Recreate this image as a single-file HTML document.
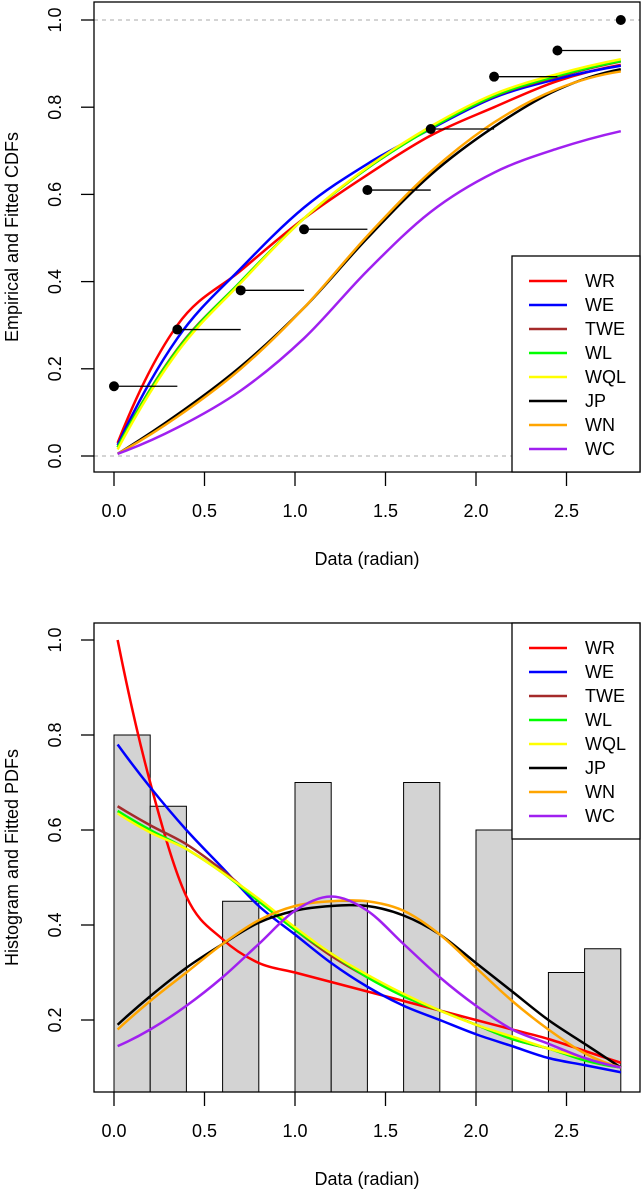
<!DOCTYPE html>
<html><head><meta charset="utf-8"><style>
body{margin:0;background:#fff;}
svg{display:block;font-family:"Liberation Sans",Arial,sans-serif;}
</style></head><body>
<svg id="chart" width="641" height="1191" viewBox="0 0 641 1191" xmlns="http://www.w3.org/2000/svg"></svg>
<script>
// ---- data ----
const xTicks = [0, 0.5, 1.0, 1.5, 2.0, 2.5];
const xTickLabels = ["0.0","0.5","1.0","1.5","2.0","2.5"];
const cdfYTicks = [0, 0.2, 0.4, 0.6, 0.8, 1.0];
const cdfYTickLabels = ["0.0","0.2","0.4","0.6","0.8","1.0"];
const pdfYTicks = [0.2, 0.4, 0.6, 0.8, 1.0];
const pdfYTickLabels = ["0.2","0.4","0.6","0.8","1.0"];
const modelNames = ["WR","WE","TWE","WL","WQL","JP","WN","WC"];
const modelColors = ["#ff0000","#0000ff","#a52a2a","#00ff00","#ffff00","#000000","#ffa500","#a020f0"];

const empX = [0, 0.35, 0.7, 1.05, 1.4, 1.75, 2.1, 2.45, 2.8];
const empY = [0.16, 0.29, 0.38, 0.52, 0.61, 0.75, 0.87, 0.93, 1.0];

const cdfX = [0.02, 0.35, 0.7, 1.05, 1.4, 1.75, 2.1, 2.45, 2.8];
const cdfWR  = [0.03, 0.30, 0.425, 0.545, 0.645, 0.735, 0.80, 0.86, 0.897];
const cdfWE  = [0.025, 0.27, 0.43, 0.57, 0.67, 0.75, 0.822, 0.865, 0.895];
const cdfTWE = [0.02, 0.245, 0.40, 0.545, 0.66, 0.752, 0.825, 0.87, 0.905];
const cdfWL  = [0.02, 0.243, 0.40, 0.545, 0.66, 0.752, 0.826, 0.872, 0.906];
const cdfWQL = [0.015, 0.238, 0.397, 0.545, 0.662, 0.756, 0.83, 0.876, 0.91];
const cdfJP  = [0.005, 0.095, 0.205, 0.34, 0.50, 0.645, 0.755, 0.84, 0.887];
const cdfWN  = [0.005, 0.09, 0.20, 0.34, 0.505, 0.652, 0.765, 0.842, 0.882];
const cdfWC  = [0.005, 0.065, 0.15, 0.27, 0.425, 0.56, 0.65, 0.705, 0.745];

const binStart = [0, 0.2, 0.4, 0.6, 0.8, 1.0, 1.2, 1.4, 1.6, 1.8, 2.0, 2.2, 2.4, 2.6];
const binHeight = [0.8, 0.65, 0, 0.45, 0, 0.7, 0.45, 0, 0.7, 0, 0.6, 0, 0.3, 0.35];

const pdfX = [0.02, 0.2, 0.4, 0.6, 0.8, 1.0, 1.2, 1.4, 1.6, 1.8, 2.0, 2.2, 2.4, 2.6, 2.8];
const pdfWR  = [1.0, 0.70, 0.46, 0.37, 0.32, 0.30, 0.28, 0.26, 0.24, 0.22, 0.20, 0.18, 0.16, 0.135, 0.11];
const pdfWE  = [0.78, 0.69, 0.60, 0.52, 0.44, 0.38, 0.32, 0.27, 0.23, 0.20, 0.17, 0.145, 0.12, 0.105, 0.09];
const pdfTWE = [0.65, 0.61, 0.57, 0.515, 0.45, 0.39, 0.335, 0.29, 0.25, 0.22, 0.19, 0.16, 0.14, 0.12, 0.10];
const pdfWL  = [0.64, 0.60, 0.56, 0.51, 0.45, 0.39, 0.34, 0.29, 0.25, 0.22, 0.19, 0.16, 0.14, 0.115, 0.10];
const pdfWQL = [0.635, 0.595, 0.56, 0.51, 0.455, 0.395, 0.34, 0.295, 0.255, 0.22, 0.19, 0.165, 0.14, 0.12, 0.10];
const pdfJP  = [0.19, 0.25, 0.31, 0.36, 0.405, 0.43, 0.44, 0.44, 0.42, 0.38, 0.32, 0.26, 0.20, 0.15, 0.10];
const pdfWN  = [0.18, 0.24, 0.30, 0.36, 0.41, 0.44, 0.45, 0.45, 0.43, 0.38, 0.31, 0.24, 0.18, 0.13, 0.10];
const pdfWC  = [0.145, 0.18, 0.23, 0.29, 0.36, 0.43, 0.46, 0.43, 0.36, 0.29, 0.23, 0.18, 0.15, 0.12, 0.10];

const cdfSeries = [cdfWR, cdfWE, cdfTWE, cdfWL, cdfWQL, cdfJP, cdfWN, cdfWC];
const pdfSeries = [pdfWR, pdfWE, pdfTWE, pdfWL, pdfWQL, pdfJP, pdfWN, pdfWC];

// ---- layout ----
const NS = "http://www.w3.org/2000/svg";
const svg = document.getElementById("chart");
const sx = v => 114 + v * 181;
const syTop = v => 456 - v * 436;
const syBot = v => 640 + (1 - v) * 475;

function mk(tag, attrs, parent) {
  const e = document.createElementNS(NS, tag);
  for (const k in attrs) e.setAttribute(k, attrs[k]);
  (parent || svg).appendChild(e);
  return e;
}
function smoothPath(xs, ys, fx, fy) {
  const p = xs.map((x, i) => [fx(x), fy(ys[i])]);
  const n = p.length;
  const sl = [];
  for (let i = 0; i < n; i++) {
    if (i > 0 && i < n - 1) sl.push((p[i + 1][1] - p[i - 1][1]) / (p[i + 1][0] - p[i - 1][0]));
    else sl.push(null);
  }
  const ch0 = (p[1][1] - p[0][1]) / (p[1][0] - p[0][0]);
  const chN = (p[n - 1][1] - p[n - 2][1]) / (p[n - 1][0] - p[n - 2][0]);
  sl[0] = n > 2 ? 2 * ch0 - sl[1] : ch0;
  sl[n - 1] = n > 2 ? 2 * chN - sl[n - 2] : chN;
  let d = "M" + p[0][0] + "," + p[0][1];
  for (let i = 0; i < n - 1; i++) {
    const p1 = p[i], p2 = p[i + 1];
    const h = p2[0] - p1[0];
    const c1 = [p1[0] + h / 3, p1[1] + sl[i] * h / 3];
    const c2 = [p2[0] - h / 3, p2[1] - sl[i + 1] * h / 3];
    d += " C" + c1 + " " + c2 + " " + p2;
  }
  return d;
}

function drawPanel(opt) {
  const g = mk("g", {});
  
  
  const clipId = opt.name + "-clip";
  const cp = mk("clipPath", {id: clipId}, g);
  mk("rect", {x: opt.left, y: opt.top, width: opt.right - opt.left, height: opt.bottom - opt.top}, cp);
  const plot = mk("g", {"clip-path": "url(#" + clipId + ")"}, g);
  
  
  opt.drawContent(plot);
  const fr = mk("rect", {x: opt.left, y: opt.top, width: opt.right - opt.left, height: opt.bottom - opt.top, fill: "none", stroke: "#000", "stroke-width": 1.3}, g);
  
  
  xTicks.forEach((t, i) => {
    const tk = mk("line", {x1: sx(t), x2: sx(t), y1: opt.bottom, y2: opt.bottom + 14, stroke: "#000", "stroke-width": 1.3}, g);
    
    
    const tl = mk("text", {x: sx(t), y: opt.bottom + 45, "font-size": 18, "text-anchor": "middle"}, g);
    tl.textContent = xTickLabels[i];
    
    
  });
  const xt = mk("text", {x: 367, y: opt.bottom + 93, "font-size": 18, "text-anchor": "middle"}, g);
  xt.textContent = "Data (radian)";
  
  
  opt.yTicks.forEach((t, i) => {
    const y = opt.sy(t);
    const tk = mk("line", {x1: 81, x2: opt.left, y1: y, y2: y, stroke: "#000", "stroke-width": 1.3}, g);
    
    
    const tl = mk("text", {x: 61, y: y, "font-size": 18, "text-anchor": "middle", transform: "rotate(-90 61 " + y + ")"}, g);
    tl.textContent = opt.yTickLabels[i];
    
    
  });
  const yc = (opt.top + opt.bottom) / 2;
  const yt = mk("text", {x: 18, y: yc, "font-size": 18, "text-anchor": "middle", transform: "rotate(-90 18 " + yc + ")"}, g);
  yt.textContent = opt.yTitle;
  
  
  const lg = mk("g", {}, g);
  
  
  mk("rect", {x: 512, y: opt.legTop, width: 128, height: 216, fill: "#fff", stroke: "#000", "stroke-width": 1.3}, lg);
  modelNames.forEach((n, i) => {
    const y = opt.legTop + 25 + i * 24;
    const e = mk("g", {}, lg);
    
    
    mk("line", {x1: 529, x2: 567, y1: y, y2: y, stroke: modelColors[i], "stroke-width": 2.5}, e);
    const t = mk("text", {x: 585, y: y + 6, "font-size": 18}, e);
    t.textContent = n;
  });
}

drawPanel({
  name: "cdf-panel", left: 94, right: 640, top: 2, bottom: 472, sy: syTop,
  yTicks: cdfYTicks, yTickLabels: cdfYTickLabels, yTitle: "Empirical and Fitted CDFs", legTop: 256,
  drawContent: (p) => {
    [0, 1].forEach(v => {
      const l = mk("line", {x1: 94, x2: 640, y1: syTop(v), y2: syTop(v), stroke: "#aaa", "stroke-dasharray": "4,4", "stroke-width": 1}, p);
      
      
    });
    cdfSeries.forEach((s, i) => {
      const c = mk("path", {d: smoothPath(cdfX, s, sx, syTop), fill: "none", stroke: modelColors[i], "stroke-width": 2.5}, p);
      
      
    });
    empX.forEach((x, i) => {
      const xe = i < empX.length - 1 ? empX[i + 1] : x;
      const l = mk("line", {x1: sx(x), x2: sx(xe), y1: syTop(empY[i]), y2: syTop(empY[i]), stroke: "#000", "stroke-width": 1.3}, p);
      
      
      const c = mk("circle", {cx: sx(x), cy: syTop(empY[i]), r: 5, fill: "#000"}, p);
      
      
    });
  }
});

drawPanel({
  name: "pdf-panel", left: 94, right: 640, top: 623, bottom: 1092, sy: syBot,
  yTicks: pdfYTicks, yTickLabels: pdfYTickLabels, yTitle: "Histogram and Fitted PDFs", legTop: 623,
  drawContent: (p) => {
    binStart.forEach((b, i) => {
      if (binHeight[i] <= 0) return;
      const r = mk("rect", {x: sx(b), y: syBot(binHeight[i]), width: sx(b + 0.2) - sx(b), height: syBot(0) - syBot(binHeight[i]), fill: "#d3d3d3", stroke: "#000", "stroke-width": 1}, p);
      
      
    });
    pdfSeries.forEach((s, i) => {
      const c = mk("path", {d: smoothPath(pdfX, s, sx, syBot), fill: "none", stroke: modelColors[i], "stroke-width": 2.5}, p);
      
      
    });
  }
});
</script>
</body></html>
